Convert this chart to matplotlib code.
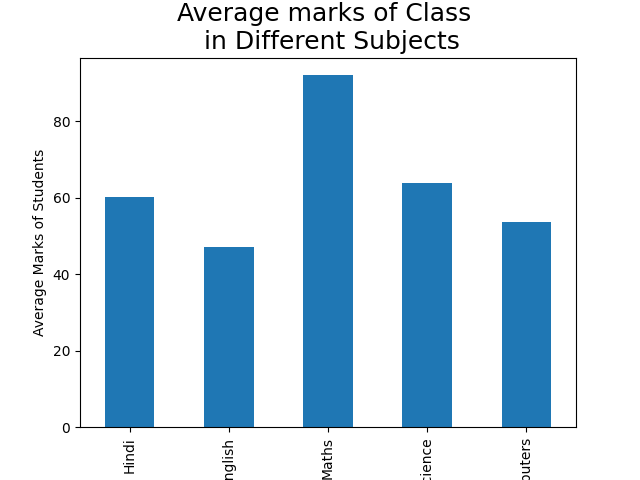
import matplotlib
matplotlib.use("Agg")
import matplotlib.pyplot as plt
import pandas as pd

subjects = ["Hindi", "English", "Maths", "Science", "Computers"]
marks = [60.2, 47.0, 92.0, 63.8, 53.6]


def main():
    df = pd.DataFrame({"Marks": marks}, index=subjects)
    fig = plt.figure(figsize=(6.4, 4.8), dpi=100)
    ax = fig.add_subplot(111)
    df["Marks"].plot(kind="bar", ax=ax, color="#1f77b4")
    ax.set_title("Average marks of Class \n in Different Subjects", fontsize=18)
    ax.set_ylabel("Average Marks of Students")
    fig.savefig("out.png", dpi=100)


if __name__ == "__main__":
    main()
